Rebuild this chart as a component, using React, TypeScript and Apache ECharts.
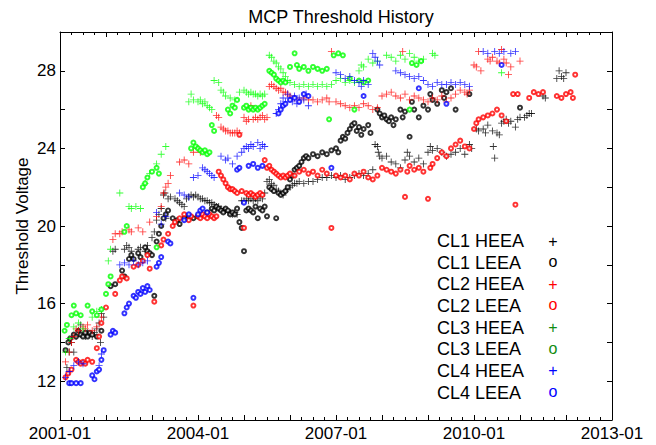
import React, { useEffect, useRef } from "react";
import * as echarts from "echarts";

const TITLE = "MCP Threshold History";
const Y_NAME = "Threshold Voltage";
const X_LABEL_YEARS = [2001, 2004, 2007, 2010, 2013];
const Y_LABELS = [12, 16, 20, 24, 28];

const SERIES_NAMES = ["CL1 HEEA", "CL1 LEEA", "CL2 HEEA", "CL2 LEEA", "CL3 HEEA", "CL3 LEEA", "CL4 HEEA", "CL4 LEEA"];

const CL1_HEEA = [[2001.15,12.7],[2001.2,13.5],[2001.25,14.0],[2001.3,13.5],[2001.35,14.3],[2001.4,14.6],[2001.45,14.9],[2001.5,14.4],[2001.55,14.3],[2001.6,14.5],[2001.65,14.4],[2001.7,14.3],[2001.75,14.5],[2001.8,14.7],[2001.85,15.0],[2001.9,15.5],[2001.95,15.3],[2001.88,14.0],
[2002.15,18.7],[2002.2,18.8],[2002.4,18.8],[2002.45,19.0],[2002.5,18.9],[2002.55,18.7],[2002.7,18.8],[2002.75,18.9],[2002.85,18.7],[2002.9,19.0],
[2003.0,19.4],[2003.05,19.7],[2003.1,20.3],[2003.15,20.6],[2003.2,20.9],[2003.25,21.6],[2003.28,21.7],[2003.3,20.4],
[2003.35,21.4],[2003.4,21.5],[2003.5,21.4],[2003.55,21.3],[2003.6,21.2],[2003.65,21.1],[2003.7,21.0],[2003.75,21.4],[2003.8,21.5],[2003.85,21.6],[2003.9,21.5],[2003.95,21.6],[2004.0,21.5],[2004.05,21.4],[2004.1,21.4],[2004.15,21.3],[2004.2,21.3],[2004.25,21.2],[2004.3,21.2],[2004.35,21.1],[2004.4,21.0],[2004.45,21.0],[2004.5,20.9],[2004.55,20.8],[2004.6,20.8],[2004.65,20.7],[2004.7,20.7],[2004.75,20.6],[2004.8,20.7],[2004.85,20.6],
[2004.95,21.3],[2005.0,21.3],[2005.05,21.4],[2005.1,21.3],[2005.15,21.4],[2005.2,21.3],[2005.25,21.4],[2005.3,21.3],[2005.35,21.5],[2005.4,21.4],[2005.45,21.7],
[2005.5,22.3],[2005.55,22.4],[2005.6,22.2],[2005.65,22.1],[2005.7,21.9],[2005.75,21.8],[2005.8,21.7],[2005.85,21.6],[2005.9,21.8],[2005.95,21.9],[2006.0,22.0],[2006.05,22.1],[2006.1,22.2],[2006.15,22.2],[2006.2,22.3],[2006.3,22.2],[2006.4,22.3],[2006.5,22.3],[2006.6,22.4],[2006.7,22.5],[2006.8,22.5],[2006.9,22.6],[2007.0,22.5],[2007.1,22.6],[2007.2,22.4],[2007.3,22.5],[2007.4,22.6],[2007.5,22.7],[2007.6,22.6],[2007.7,22.7],[2007.8,22.9],
[2007.85,24.2],[2007.9,24.1],[2007.92,23.8],[2007.95,23.6],[2008.0,23.5],[2008.1,23.6],[2008.2,23.3],[2008.3,23.2],[2008.4,23.0],[2008.5,23.4],[2008.55,23.8],[2008.6,23.6],[2008.7,23.3],[2008.8,23.5],[2008.9,23.2],
[2009.0,23.8],[2009.05,24.1],[2009.1,23.9],[2009.2,24.0],[2009.3,23.8],[2009.4,23.6],[2009.5,23.7],[2009.6,23.8],[2009.7,24.0],[2009.8,23.7],[2009.9,24.2],[2009.95,24.0],
[2010.05,25.0],[2010.1,24.9],[2010.2,25.0],[2010.25,24.8],[2010.3,25.2],[2010.4,24.9],[2010.42,24.1],[2010.45,23.5],[2010.5,24.8],[2010.55,24.7],[2010.6,25.3],[2010.65,25.4],[2010.7,25.5],[2010.75,25.3],[2010.8,25.4],[2010.9,25.1],[2010.95,25.5],[2011.0,25.6],[2011.1,25.6],[2011.15,25.7],[2011.2,25.8],[2011.25,25.8],[2011.5,26.7],[2011.55,26.6],[2011.8,27.6],[2011.85,28.0],[2011.9,27.7],[2011.95,27.6],[2012.0,27.9]];

const CL1_LEEA = [[2001.12,13.6],[2001.18,14.0],[2001.22,14.2],[2001.3,14.4],[2001.35,14.3],[2001.4,14.6],[2001.45,14.4],[2001.5,14.3],[2001.55,14.5],[2001.6,14.3],[2001.65,14.5],[2001.7,14.4],[2001.8,14.3],[2001.9,14.6],
[2002.1,16.9],[2002.2,17.0],[2002.35,17.7],[2002.4,17.4],[2002.5,18.3],[2002.55,18.5],[2002.6,18.3],[2002.7,18.6],[2002.75,18.4],[2002.85,18.9],[2002.9,18.7],[2002.95,18.6],[2003.0,18.5],[2003.05,16.4],[2003.1,19.2],[2003.15,19.6],[2003.2,20.0],[2003.25,20.4],[2003.3,20.6],[2003.35,20.8],[2003.45,20.4],[2003.55,20.3],[2003.6,20.1],[2003.7,20.4],[2003.8,20.5],[2003.9,20.4],[2004.0,20.5],
[2004.2,20.7],[2004.3,20.9],[2004.35,20.8],[2004.4,21.0],[2004.45,20.9],[2004.5,20.8],[2004.55,20.7],[2004.6,20.9],[2004.65,20.8],[2004.7,20.6],[2004.75,20.7],[2004.8,20.6],[2004.85,20.9],[2004.9,20.2],[2004.95,19.9],[2005.0,18.7],[2005.05,20.8],[2005.1,20.9],[2005.15,20.8],[2005.2,20.7],[2005.25,21.0],[2005.3,20.4],[2005.35,20.9],[2005.4,20.8],[2005.45,21.0],[2005.5,20.5],
[2005.55,22.0],[2005.6,21.9],[2005.65,21.8],[2005.7,20.4],[2005.75,21.7],[2005.8,21.6],[2005.85,21.7],[2005.9,21.8],[2005.95,22.0],[2006.0,22.4],[2006.05,22.6],[2006.1,22.9],[2006.15,23.0],[2006.2,23.1],[2006.25,23.3],[2006.3,23.5],[2006.35,23.6],[2006.4,23.5],[2006.5,23.7],[2006.6,23.6],[2006.7,23.8],[2006.8,23.7],[2006.9,23.9],[2007.0,24.0],[2007.05,23.8],[2007.1,24.4],[2007.15,24.6],[2007.2,24.5],[2007.25,24.8],[2007.3,25.0],[2007.35,25.2],[2007.4,25.3],[2007.45,24.9],[2007.5,25.1],[2007.55,24.7],[2007.6,25.0],[2007.7,25.2],[2007.75,24.8],
[2007.9,26.0],[2007.95,25.8],[2008.0,25.6],[2008.05,25.7],[2008.1,25.5],[2008.15,25.4],[2008.2,25.6],[2008.25,25.2],[2008.3,25.5],[2008.4,26.0],[2008.45,25.6],[2008.5,25.9],[2008.6,24.6],[2008.65,26.4],[2008.7,26.0],[2008.8,25.6],[2008.9,26.2],[2009.0,26.0],[2009.05,26.8],[2009.1,26.5],[2009.2,26.3],[2009.3,27.0],[2009.35,26.6],[2009.4,26.9],[2009.5,27.1],[2009.6,26.0],[2009.9,26.8],[2011.0,26.1]];

const CL2_HEEA = [[2001.12,13.0],[2001.2,13.5],[2001.25,14.0],[2001.3,14.3],[2001.35,14.7],[2001.4,14.6],[2001.5,14.8],[2001.55,14.7],[2001.6,14.9],[2001.7,14.6],[2001.8,14.8],[2001.9,15.3],
[2002.15,19.3],[2002.2,19.6],[2002.3,19.6],[2002.35,19.7],[2002.5,19.8],[2002.55,19.7],[2002.7,19.9],[2002.8,19.7],[2002.95,20.2],[2003.1,20.5],[2003.2,21.0],[2003.25,21.7],[2003.3,22.0],[2003.35,22.2],[2003.4,22.6],[2003.6,23.3],[2003.7,23.4],[2003.8,23.2],[2003.9,23.8],[2004.0,24.0],[2004.05,23.8],
[2004.4,25.7],[2004.45,25.6],[2004.5,25.1],[2004.55,25.0],[2004.6,24.9],[2004.65,24.9],[2004.7,24.8],[2004.75,24.8],[2004.8,24.8],[2004.85,24.9],[2004.9,24.8],
[2005.0,25.6],[2005.05,25.4],[2005.1,25.5],[2005.15,26.2],[2005.2,25.5],[2005.25,25.6],[2005.3,25.5],[2005.35,25.6],[2005.4,25.7],[2005.45,25.5],[2005.5,25.6],[2005.55,27.2],[2005.6,27.3],[2005.65,27.2],[2005.7,27.1],[2005.75,27.0],[2005.8,27.1],[2005.85,26.9],[2005.9,26.9],[2005.95,26.8],[2006.0,26.7],[2006.1,26.6],[2006.2,26.5],[2006.3,26.6],[2006.4,26.5],[2006.5,26.5],[2006.6,26.4],[2006.7,26.5],[2006.8,26.6],[2006.85,26.4],[2006.9,29.0],[2007.0,26.4],[2007.1,26.3],[2007.2,26.2],[2007.3,26.1],[2007.4,26.2],[2007.5,26.1],[2007.6,26.3],[2007.7,26.2],[2007.8,26.0],[2007.9,26.1],[2008.0,26.7],[2008.1,26.8],[2008.2,26.9],[2008.3,26.7],[2008.4,26.6],[2008.5,26.8],[2008.6,26.5],[2008.7,26.7],[2008.8,26.6],[2008.9,26.5],[2009.0,26.4],[2009.1,26.6],[2009.2,26.5],[2009.3,26.7],[2009.4,26.4],[2009.5,26.6],[2009.6,26.8],[2009.7,27.0],[2009.8,26.9],[2009.85,26.8],[2009.9,27.0],[2008.45,29.0],[2010.0,28.3],[2010.05,28.2],[2010.1,29.0],[2010.15,28.0],[2010.3,28.6],[2010.35,28.5],[2010.4,28.7],[2010.5,28.5],[2010.55,28.4],[2010.6,29.1],[2010.65,28.6],[2010.7,28.4],[2010.75,27.8],[2010.8,28.2],[2011.0,28.5]];

const CL2_LEEA = [[2001.12,12.2],[2001.18,12.4],[2001.25,12.6],[2001.35,13.1],[2001.4,13.0],[2001.45,12.9],[2001.5,13.0],[2001.55,12.9],[2001.6,13.1],[2001.7,13.0],[2001.8,13.7],[2001.85,14.3],[2001.9,15.0],[2002.0,15.8],[2002.2,16.5],[2002.3,17.2],[2002.35,17.4],[2002.45,17.3],[2002.6,17.9],[2002.7,18.0],[2002.8,18.2],[2002.9,18.5],[2002.95,17.8],[2003.05,16.1],[2003.2,19.0],[2003.25,19.3],[2003.35,19.6],[2003.45,20.0],[2003.5,20.2],[2003.6,20.4],[2003.7,20.6],[2003.8,20.3],[2003.85,20.5],[2003.9,15.9],[2004.0,20.5],[2004.05,20.4],[2004.1,20.6],[2004.15,20.5],[2004.2,20.4],[2004.25,20.6],[2004.3,20.5],[2004.35,20.4],[2004.4,20.5],
[2004.45,22.8],[2004.5,22.6],[2004.55,22.4],[2004.6,22.2],[2004.65,22.0],[2004.7,21.9],[2004.75,21.9],[2004.8,21.8],[2004.85,21.7],[2004.9,24.7],[2004.95,21.8],[2005.0,19.9],[2005.05,21.7],[2005.1,21.6],[2005.15,21.7],[2005.2,21.6],[2005.25,21.5],[2005.3,21.6],[2005.35,21.7],[2005.4,21.6],[2005.45,23.4],[2005.5,23.0],[2005.55,23.1],[2005.6,22.9],[2005.65,22.8],[2005.7,22.7],[2005.75,22.6],[2005.8,22.5],[2005.85,22.6],[2005.9,22.5],[2005.95,22.6],[2006.0,22.7],[2006.1,22.6],[2006.2,22.8],[2006.3,22.9],[2006.4,22.7],[2006.5,22.8],[2006.6,22.6],[2006.7,22.9],[2006.8,22.7],[2006.9,19.9],[2007.0,22.6],[2007.1,22.5],[2007.2,22.6],[2007.3,22.4],[2007.4,22.7],[2007.5,22.6],[2007.6,22.8],[2007.7,22.5],[2007.8,22.4],[2007.9,22.6],[2008.0,23.0],[2008.1,22.9],[2008.2,22.8],[2008.3,22.7],[2008.4,22.9],[2008.5,21.5],[2008.55,22.8],[2008.6,23.1],[2008.7,22.9],[2008.8,23.0],[2008.9,22.8],[2009.0,21.4],[2009.05,23.0],[2009.1,23.2],[2009.2,23.5],[2009.3,23.8],[2009.4,23.6],[2009.5,24.0],[2009.6,24.2],[2009.7,24.4],[2009.8,24.1],[2009.9,24.0],[2010.0,25.0],[2010.05,25.3],[2010.1,25.5],[2010.2,25.6],[2010.3,25.7],[2010.4,25.8],[2010.5,26.0],[2010.6,25.7],[2010.7,25.4],[2010.9,21.1],[2010.85,26.8],[2010.95,26.8],[2011.2,26.6],[2011.3,26.9],[2011.4,26.8],[2011.5,26.9],[2011.8,26.7],[2011.9,26.6],[2012.0,26.8],[2012.1,26.9],[2012.15,26.6],[2012.2,27.8]];

const CL3_HEEA = [[2001.12,13.5],[2001.2,14.2],[2001.3,14.8],[2001.4,15.0],[2001.5,14.7],[2001.7,15.3],[2001.8,15.6],[2001.9,15.7],[2002.05,18.2],[2002.1,18.8],[2002.3,21.7],[2002.5,21.0],[2002.55,20.9],[2002.65,21.0],[2002.75,20.9],[2002.85,22.2],[2002.95,22.7],[2003.1,23.2],[2003.2,23.7],[2003.3,24.1],[2003.8,26.4],[2003.85,26.8],[2003.9,26.5],[2004.0,26.4],[2004.05,26.5],[2004.1,26.3],[2004.15,26.4],[2004.2,26.2],[2004.25,26.1],[2004.3,26.0],[2004.35,27.5],[2004.45,27.4],[2004.5,27.0],[2004.55,26.9],[2004.6,26.7],[2004.7,26.6],[2004.8,26.5],[2004.9,26.9],[2005.0,27.0],[2005.05,26.9],[2005.1,26.8],[2005.15,26.9],[2005.2,26.8],[2005.25,26.8],[2005.3,26.7],[2005.35,26.8],[2005.4,26.7],[2005.45,26.8],[2005.55,28.8],[2005.6,28.7],[2005.65,28.5],[2005.7,28.4],[2005.75,28.2],[2005.8,28.1],[2005.85,27.9],[2005.9,27.7],[2005.95,27.5],[2006.0,27.4],[2006.1,27.3],[2006.2,27.2],[2006.3,27.3],[2006.4,27.2],[2006.5,27.3],[2006.6,27.2],[2006.7,27.3],[2006.8,27.2],[2006.9,27.3],[2007.0,27.5],[2007.1,27.6],[2007.2,27.4],[2007.3,27.5],[2007.4,27.4],[2007.5,28.0],[2007.55,28.3],[2007.6,28.2],[2007.7,28.6],[2007.8,28.4],[2007.9,28.5],[2008.1,28.8],[2008.2,28.7],[2008.3,28.5],[2008.4,28.8],[2008.5,28.6],[2008.6,28.9],[2008.7,28.7],[2008.8,28.5],[2008.9,28.6],[2009.1,28.9],[2009.15,28.8],[2010.6,27.9]];

const CL3_LEEA = [[2001.1,14.6],[2001.15,14.9],[2001.25,15.4],[2001.3,15.9],[2001.35,15.5],[2001.45,15.4],[2001.6,15.9],[2001.7,15.6],[2001.8,15.4],[2001.9,15.7],[2002.0,16.5],[2002.05,17.0],[2002.1,17.4],[2002.4,19.7],[2002.45,20.0],[2002.8,22.0],[2002.85,22.2],[2002.9,22.5],[2003.0,22.8],[2003.1,23.0],[2003.15,22.7],[2003.1,18.9],[2003.85,24.0],[2003.9,24.3],[2003.95,24.1],[2004.0,24.0],[2004.05,23.9],[2004.1,23.8],[2004.15,23.9],[2004.2,23.7],[2004.25,23.8],[2004.3,25.2],[2004.35,24.9],[2004.65,26.0],[2004.7,25.8],[2004.75,26.2],[2004.8,26.1],[2004.85,26.5],[2005.0,26.1],[2005.05,26.2],[2005.1,26.0],[2005.15,26.1],[2005.2,26.0],[2005.25,26.1],[2005.3,26.0],[2005.35,26.1],[2005.4,26.2],[2005.45,26.3],[2005.55,28.0],[2005.6,27.9],[2005.65,27.8],[2005.7,27.6],[2005.75,27.5],[2005.8,27.4],[2005.85,27.5],[2005.9,27.4],[2006.0,28.2],[2006.1,28.9],[2006.15,28.3],[2006.2,28.1],[2006.3,28.2],[2006.4,28.0],[2006.5,28.2],[2006.6,28.1],[2006.7,28.0],[2006.8,28.1],[2006.85,25.5],[2006.95,28.8],[2007.05,28.9],[2007.15,28.8],[2007.3,27.6],[2007.4,26.0],[2007.5,27.5],[2007.6,27.4],[2007.7,27.5],[2008.6,26.0],[2008.65,28.4],[2008.75,28.3],[2008.85,28.5]];

const CL4_HEEA = [[2001.12,12.2],[2001.2,12.5],[2001.3,12.8],[2001.4,13.0],[2001.5,12.9],[2001.85,12.8],[2001.9,13.4],[2002.3,18.0],[2002.4,18.1],[2002.5,18.0],[2002.6,18.2],[2002.7,18.0],[2002.8,18.1],[2002.9,18.2],[2003.1,20.7],[2003.2,20.1],[2003.3,20.5],[2003.6,21.7],[2003.7,21.6],[2003.8,21.5],[2003.9,22.5],[2004.0,22.6],[2004.1,23.0],[2004.15,22.9],[2004.2,22.8],[2004.25,22.7],[2004.3,22.6],[2004.35,22.5],[2004.5,23.6],[2004.6,23.4],[2004.65,23.5],[2004.75,23.2],[2004.85,23.6],[2004.95,23.8],[2005.0,24.0],[2005.05,24.1],[2005.1,24.0],[2005.15,24.2],[2005.2,24.1],[2005.3,24.3],[2005.35,24.0],[2005.4,24.2],[2005.45,24.1],[2005.7,25.8],[2005.75,26.0],[2005.8,26.3],[2005.85,26.6],[2005.9,26.4],[2005.95,26.8],[2006.0,26.6],[2006.05,26.4],[2006.1,26.7],[2006.15,26.3],[2006.2,26.6],[2006.3,26.5],[2006.35,26.8],[2006.4,26.2],[2007.0,27.9],[2007.1,27.8],[2007.2,27.6],[2007.3,27.7],[2007.4,27.5],[2007.5,27.4],[2007.55,27.2],[2007.6,27.5],[2007.7,27.3],[2007.8,28.9],[2007.85,28.7],[2007.9,28.5],[2007.95,28.3],[2008.3,28.0],[2008.4,27.9],[2008.5,27.8],[2008.6,27.7],[2008.7,27.6],[2008.8,27.7],[2008.9,27.5],[2009.0,27.3],[2009.1,27.2],[2009.2,27.4],[2009.3,27.3],[2009.4,27.3],[2009.5,27.4],[2009.6,27.3],[2009.7,27.4],[2009.8,27.3],[2009.9,27.2],[2010.2,29.0],[2010.3,28.9],[2010.45,29.0],[2010.55,28.9],[2010.65,29.0],[2010.8,28.9],[2010.9,29.0]];

const CL4_LEEA = [[2001.2,11.9],[2001.25,11.9],[2001.35,11.9],[2001.45,11.9],[2001.7,12.3],[2001.75,12.1],[2001.8,12.5],[2001.85,12.6],[2001.9,13.1],[2001.95,13.6],[2002.1,14.4],[2002.15,14.6],[2002.2,14.5],[2002.4,15.5],[2002.45,15.8],[2002.5,16.0],[2002.6,16.4],[2002.65,16.3],[2002.7,16.6],[2002.75,16.5],[2002.8,16.8],[2002.85,16.6],[2002.9,16.9],[2002.95,16.7],[2003.1,17.9],[2003.15,18.1],[2003.2,18.4],[2003.35,19.2],[2003.4,19.1],[2003.7,20.3],[2003.8,20.6],[2003.9,16.3],[2004.0,20.6],[2004.05,20.8],[2004.1,20.9],[2004.2,20.7],[2004.85,22.9],[2004.9,23.0],[2005.0,21.2],[2005.1,23.1],[2005.2,23.2],[2005.3,23.0],[2005.4,23.1],[2005.75,25.8],[2005.8,26.0],[2005.85,26.2],[2005.9,26.3],[2006.0,26.5],[2006.1,26.6],[2006.2,26.4],[2006.3,26.8],[2006.4,26.7],[2006.9,23.0],[2007.6,26.7],[2008.8,27.1],[2009.4,26.3],[2010.6,28.3]];

const SERIES_DATA = [CL1_HEEA, CL1_LEEA, CL2_HEEA, CL2_LEEA, CL3_HEEA, CL3_LEEA, CL4_HEEA, CL4_LEEA];
const COLORS = ["#000000", "#000000", "#ff0000", "#ff0000", "#00ff00", "#00ff00", "#0000ff", "#0000ff"];
const LEGEND_COLORS = ["#000000", "#000000", "#ff0000", "#ff0000", "#118c11", "#118c11", "#0000ff", "#0000ff"];

const PLUS = "path://M4.4,0H5.6V4.4H10V5.6H5.6V10H4.4V5.6H0V4.4H4.4Z";
const FONT = "'Liberation Sans', Arial, Helvetica, sans-serif";

export default function App() {
  const ref = useRef<HTMLDivElement>(null);
  useEffect(() => {
    if (!ref.current) return;
    const chart = echarts.init(ref.current, undefined, { renderer: "svg" });
    const grid = { left: 60, right: 44, top: 32, bottom: 25 };
    const xBase = {
      type: "value",
      min: 2001,
      max: 2013,
      interval: 1,
      axisLine: { show: true, lineStyle: { color: "#000", width: 1 } },
      axisTick: { show: true, inside: true, length: 5, lineStyle: { color: "#000" } },
      minorTick: { show: true, splitNumber: 4, length: 3, lineStyle: { color: "#000" } },
      splitLine: { show: false },
    };
    const yBase = {
      type: "value",
      min: 10,
      max: 30,
      interval: 2,
      axisLine: { show: true, lineStyle: { color: "#000", width: 1 } },
      axisTick: { show: true, inside: true, length: 5, lineStyle: { color: "#000" } },
      splitLine: { show: false },
    };
    const legendGraphics: any[] = [];
    SERIES_NAMES.forEach((name, i) => {
      const y = 241 + i * 21.65;
      legendGraphics.push({
        type: "text",
        x: 437,
        y,
        style: { text: name, font: `18px ${FONT}`, fill: "#000", textVerticalAlign: "middle", textAlign: "left" },
      });
      legendGraphics.push({
        type: "text",
        x: 553,
        y: y - (i % 2 === 1 ? 1 : 0),
        style: { text: i % 2 === 0 ? "+" : "o", font: `16px ${FONT}`, fill: LEGEND_COLORS[i], textVerticalAlign: "middle", textAlign: "center" },
      });
    });
    chart.setOption({
      animation: false,
      backgroundColor: "#fff",
      title: {
        text: TITLE,
        left: 336,
        top: 3,
        textAlign: "center",
        textStyle: { fontFamily: FONT, fontSize: 18, fontWeight: "normal", color: "#000" },
      },
      grid,
      xAxis: [
        {
          ...xBase,
          position: "bottom",
          axisLabel: {
            show: true,
            color: "#000",
            fontFamily: FONT,
            fontSize: 17,
            margin: 5,
            showMinLabel: true,
            showMaxLabel: true,
            formatter: (v: number) => (X_LABEL_YEARS.includes(Math.round(v)) && Math.abs(v - Math.round(v)) < 1e-6 ? `${Math.round(v)}-01` : ""),
          },
        },
        { ...xBase, position: "top", axisLabel: { show: false } },
      ],
      yAxis: [
        {
          ...yBase,
          position: "left",
          axisLabel: {
            show: true,
            color: "#000",
            fontFamily: FONT,
            fontSize: 17,
            margin: 4,
            formatter: (v: number) => (Y_LABELS.includes(Math.round(v)) ? String(Math.round(v)) : ""),
          },
        },
        { ...yBase, position: "right", axisLabel: { show: false } },
      ],
      graphic: [
        {
          type: "text",
          x: 22,
          y: 226,
          rotation: Math.PI / 2,
          style: { text: Y_NAME, font: `17px ${FONT}`, fill: "#000", textAlign: "center", textVerticalAlign: "middle" },
        },
        ...legendGraphics,
      ],
      series: SERIES_DATA.map((d, i) => ({
        name: SERIES_NAMES[i],
        type: "scatter",
        xAxisIndex: 0,
        yAxisIndex: 0,
        data: d,
        symbol: i % 2 === 0 ? PLUS : "emptyCircle",
        symbolSize: i % 2 === 0 ? 7 : 4,
        itemStyle: i % 2 === 0 ? { color: COLORS[i], borderWidth: 0 } : { color: COLORS[i], borderColor: COLORS[i], borderWidth: 0.9 },
        silent: true,
      })),
    });
    return () => chart.dispose();
  }, []);
  return <div ref={ref} style={{ position: "absolute", left: 0, top: 0, width: 656, height: 445 }} />;
}
